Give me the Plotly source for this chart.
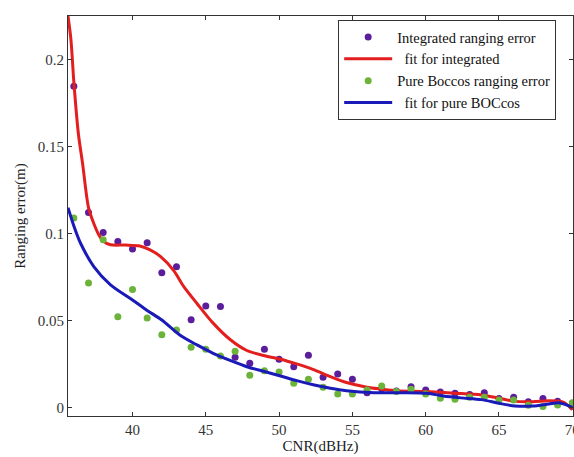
import plotly.graph_objects as go

# ---- data ----
cnr_int = [36, 37, 38, 39, 40, 41, 42, 43, 44, 45, 46, 47, 48, 49, 50, 51, 52, 53,
           54, 55, 56, 57, 58, 59, 60, 61, 62, 63, 64, 65, 66, 67, 68, 69, 70]
err_int = [0.1847, 0.1122, 0.1007, 0.0956, 0.0912, 0.0948, 0.0776, 0.0810, 0.0506,
           0.0586, 0.0582, 0.0291, 0.0257, 0.0337, 0.0280, 0.0237, 0.0303, 0.0176,
           0.0195, 0.0165, 0.0088, 0.0110, 0.0098, 0.0122, 0.0103, 0.0092, 0.0084,
           0.0078, 0.0088, 0.0055, 0.0061, 0.0036, 0.0054, 0.0038, 0.0010]

cnr_pure = [36, 37, 38, 39, 40, 41, 42, 43, 44, 45, 46, 47, 48, 49, 50, 51, 52, 53,
            54, 55, 56, 57, 58, 59, 60, 61, 62, 63, 64, 65, 66, 67, 68, 69, 70]
err_pure = [0.1090, 0.0717, 0.0966, 0.0523, 0.0680, 0.0517, 0.0420, 0.0448, 0.0349,
            0.0337, 0.0299, 0.0326, 0.0188, 0.0214, 0.0207, 0.0142, 0.0165, 0.0119,
            0.0080, 0.0080, 0.0103, 0.0126, 0.0094, 0.0107, 0.0080, 0.0056, 0.0050,
            0.0061, 0.0062, 0.0046, 0.0046, 0.0015, 0.0008, 0.0017, 0.0030]

fit_int_x = [35.6, 35.8, 36.0, 36.3, 36.6, 37.0, 37.4, 37.7, 38.0, 38.5, 39.5, 40.5,
             41.2, 41.9, 42.8, 43.5, 44.4, 45.5, 46.7, 47.8, 49.0, 50.1, 51.2, 52.3,
             53.5, 54.6, 56.0, 57.0, 58.0, 60.0, 62.0, 63.8, 65.0, 66.1, 67.3, 68.4,
             69.3, 69.7, 70.0]
fit_int_y = [0.225, 0.2115, 0.187, 0.158, 0.140, 0.115, 0.105, 0.0994, 0.0958, 0.0937,
             0.0935, 0.0930, 0.0908, 0.0870, 0.0790, 0.0697, 0.0600, 0.0487, 0.0390,
             0.0330, 0.0300, 0.0280, 0.0253, 0.0222, 0.0180, 0.0146, 0.0119, 0.0108,
             0.0099, 0.0094, 0.0085, 0.0075, 0.0056, 0.0038, 0.0036, 0.0042, 0.0036,
             0.0015, -0.001]

fit_pure_x = [35.6, 36.0, 36.45, 37.36, 38.5, 40.0, 41.0, 42.0, 43.3, 44.4, 45.5, 46.7,
              47.8, 49.0, 50.1, 51.2, 52.4, 53.5, 54.6, 56.5, 58.5, 60.1, 61.2, 62.4,
              63.8, 65.0, 66.1, 67.3, 68.4, 69.1, 70.0]
fit_pure_y = [0.1150, 0.1045, 0.0947, 0.0812, 0.0707, 0.0620, 0.0560, 0.0505, 0.0414,
              0.0362, 0.0314, 0.0272, 0.0237, 0.0209, 0.0184, 0.0157, 0.0132, 0.0113,
              0.0099, 0.0088, 0.0088, 0.0084, 0.0069, 0.0058, 0.0048, 0.0027, 0.0012,
              0.0011, 0.0023, 0.0030, 0.0004]

x_ticks = [40, 45, 50, 55, 60, 65, 70]
y_ticks = [0, 0.05, 0.1, 0.15, 0.2]
y_tick_labels = ["0", "0.05", "0.1", "0.15", "0.2"]

PURPLE = "#5A1E9C"
GREEN = "#6CB33A"
RED = "#E31E1E"
BLUE = "#1A1AB8"
FONT = "Liberation Serif"

fig = go.Figure()
fig.add_trace(go.Scatter(x=cnr_int, y=err_int, mode="markers",
                         marker=dict(color=PURPLE, size=7),
                         name="Integrated ranging error"))
fig.add_trace(go.Scatter(x=fit_int_x, y=fit_int_y, mode="lines",
                         line=dict(color=RED, width=3, shape="spline", smoothing=0.8),
                         name="  fit for integrated"))
fig.add_trace(go.Scatter(x=cnr_pure, y=err_pure, mode="markers",
                         marker=dict(color=GREEN, size=7),
                         name="Pure Boccos ranging error"))
fig.add_trace(go.Scatter(x=fit_pure_x, y=fit_pure_y, mode="lines",
                         line=dict(color=BLUE, width=3, shape="spline", smoothing=0.8),
                         name="  fit for pure BOCcos"))

axis_common = dict(showline=True, linecolor="#333333", linewidth=1, mirror="ticks",
                   ticks="inside", ticklen=4, tickcolor="#333333", showgrid=False,
                   zeroline=False, ticklabeloverflow="allow", automargin=False,
                   tickfont=dict(family=FONT, size=15, color="#333333"))

fig.update_xaxes(range=[35.6, 70.05], tickvals=x_ticks,
                 title=dict(text="CNR(dBHz)", font=dict(family=FONT, size=15, color="#222222"),
                            standoff=2),
                 **axis_common)
fig.update_yaxes(range=[-0.0046, 0.225], tickvals=y_ticks, ticktext=y_tick_labels,
                 title=dict(text="Ranging error(m)", font=dict(family=FONT, size=15, color="#222222"),
                            standoff=8),
                 **axis_common)

fig.update_layout(
    width=574, height=457,
    margin=dict(l=68, r=1, t=16, b=41),
    plot_bgcolor="white", paper_bgcolor="white",
    font=dict(family=FONT, size=15, color="#222222"),
    legend=dict(x=0.535, y=0.99, xanchor="left", yanchor="top",
                bordercolor="#333333", borderwidth=1, bgcolor="white",
                font=dict(family=FONT, size=14.5, color="#111111"),
                tracegroupgap=0, itemwidth=48, entrywidth=180, entrywidthmode="pixels"),
)

fig.write_html("out.html")
